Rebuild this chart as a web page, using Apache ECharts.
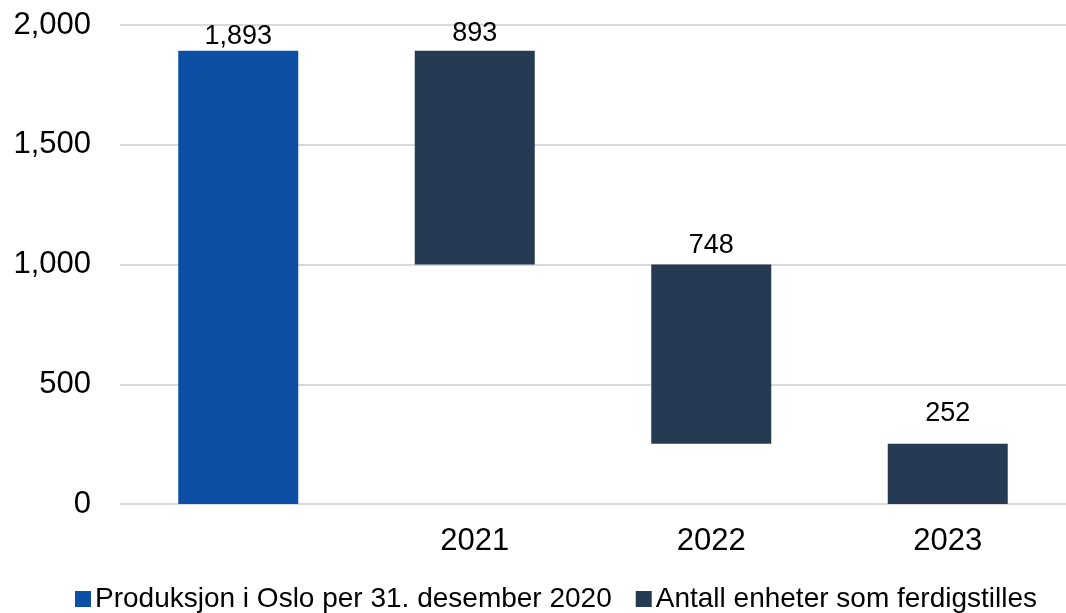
<!DOCTYPE html>
<html>
<head>
<meta charset="utf-8">
<script src="https://cdn.jsdelivr.net/npm/echarts@6/dist/echarts.min.js"></script>
<style>
  html, body { margin: 0; padding: 0; background: #fff; }
  #chart { width: 1066px; height: 613px; }
</style>
</head>
<body>
<div id="chart"></div>
<script>
// Waterfall: starting stock, then units completed per year
const categories = ['', '2021', '2022', '2023'];
const startValue = [1893, '-', '-', '-'];
const completed = ['-', 893, 748, 252];
const seriesNames = ['Produksjon i Oslo per 31. desember 2020', 'Antall enheter som ferdigstilles'];

// Invisible base so each yearly bar hangs from the running remainder
const base = [];
let running = startValue[0];
for (let i = 0; i < categories.length; i++) {
  if (completed[i] === '-') { base.push(0); continue; }
  running -= completed[i];
  base.push(running);
}

const fmt = v => v.toLocaleString('en-US');
const font = 'Liberation Sans, Arial, sans-serif';

// Gap between each value label and its bar top, per category
const labelGap = [1, 4, 5, 17];
const labelled = (values) => values.map((v, i) =>
  v === '-' ? '-' : { value: v, label: { distance: labelGap[i] } });

const valueLabel = {
  show: true, position: 'top', fontFamily: font, fontSize: 27, color: '#000',
  formatter: p => fmt(p.value)
};

const chart = echarts.init(document.getElementById('chart'));
chart.setOption({
  animation: false,
  grid: { left: 120, width: 950, top: 25, height: 479 },
  legend: {
    top: 585,
    left: 75,
    padding: 0,
    itemWidth: 16,
    itemHeight: 16,
    itemGap: 24,
    icon: 'rect',
    data: seriesNames,
    textStyle: { fontFamily: font, fontSize: 28, color: '#000', padding: [0, 0, 0, -1] }
  },
  xAxis: {
    type: 'category',
    data: categories,
    axisLine: { show: false },
    axisTick: { show: false },
    axisLabel: { fontFamily: font, fontSize: 31, color: '#000', margin: 22 }
  },
  yAxis: {
    type: 'value',
    min: 0,
    max: 2000,
    interval: 500,
    axisLine: { show: false },
    axisTick: { show: false },
    splitLine: { lineStyle: { color: '#d9d9d9', width: 2 } },
    axisLabel: { fontFamily: font, fontSize: 31, color: '#000', margin: 29, formatter: fmt }
  },
  series: [
    {
      name: 'base',
      type: 'bar',
      stack: 'w',
      data: base,
      barWidth: 120,
      itemStyle: { color: 'transparent' },
      emphasis: { disabled: true },
      silent: true
    },
    {
      name: seriesNames[0],
      type: 'bar',
      stack: 'w',
      data: labelled(startValue),
      barWidth: 120,
      itemStyle: { color: '#0E4FA6' },
      label: valueLabel
    },
    {
      name: seriesNames[1],
      type: 'bar',
      stack: 'w',
      data: labelled(completed),
      barWidth: 120,
      itemStyle: { color: '#243B53' },
      label: valueLabel
    }
  ]
});
</script>
</body>
</html>
